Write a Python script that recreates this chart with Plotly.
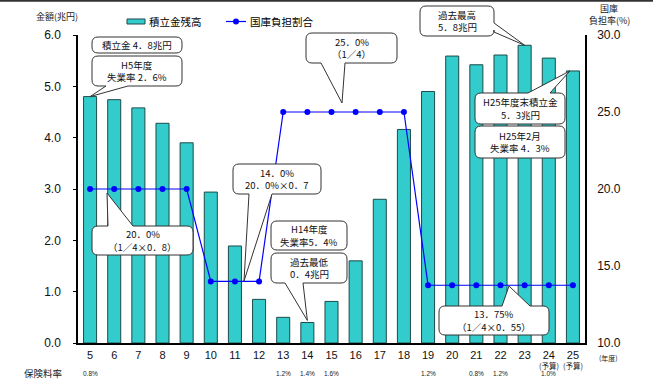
import plotly.graph_objects as go

# ---- data -------------------------------------------------------------
fiscal_years = ["5", "6", "7", "8", "9", "10", "11", "12", "13", "14", "15",
                "16", "17", "18", "19", "20", "21", "22", "23", "24", "25"]
reserve_balance = [4.8, 4.74, 4.58, 4.28, 3.90, 2.94, 1.89, 0.85, 0.50, 0.40, 0.81,
                   1.60, 2.80, 4.16, 4.90, 5.59, 5.42, 5.61, 5.8, 5.55, 5.3]
treasury_share = [20.0, 20.0, 20.0, 20.0, 20.0, 14.0, 14.0, 14.0, 25.0, 25.0, 25.0,
                  25.0, 25.0, 25.0, 13.75, 13.75, 13.75, 13.75, 13.75, 13.75, 13.75]
rate_years = ["5", "13", "14", "15", "19", "21", "22", "24"]
rate_labels = ["0.8%", "1.2%", "1.4%", "1.6%", "1.2%", "0.8%", "1.2%", "1.0%"]
budget_years = ["24", "25"]
left_ticks = [0, 1, 2, 3, 4, 5, 6]
right_ticks = [10, 15, 20, 25, 30]

# ---- page geometry (pixels) ------------------------------------------
W, H = 653, 379
L, R, T, B = 78, 585, 35, 343
JP = "Noto Sans CJK JP"
TEAL = "#33CCCC"
EDGE = "#1E4A4A"
BLUE = "#0000FF"


def px(x):
    return (x - L) / (R - L)


def py(y):
    return (B - y) / (B - T)


def bar_top(year, value):
    i = fiscal_years.index(year)
    x = L + (i + 0.5) * (R - L) / len(fiscal_years)
    y = B - value * (B - T) / 6.0
    return x, y


def bubble_path(x0, y0, x1, y1, r=6, tail=None):
    side = tail[0] if tail else None
    d = [f"M{px(x0 + r)},{py(y0)}"]
    if side == "top":
        _, a, b, tx, ty = tail
        d += [f"L{px(a)},{py(y0)}", f"L{px(tx)},{py(ty)}", f"L{px(b)},{py(y0)}"]
    d += [f"L{px(x1 - r)},{py(y0)}", f"Q{px(x1)},{py(y0)} {px(x1)},{py(y0 + r)}"]
    if side == "right":
        _, a, b, tx, ty = tail
        d += [f"L{px(x1)},{py(a)}", f"L{px(tx)},{py(ty)}", f"L{px(x1)},{py(b)}"]
    d += [f"L{px(x1)},{py(y1 - r)}", f"Q{px(x1)},{py(y1)} {px(x1 - r)},{py(y1)}"]
    if side == "bottom":
        _, a, b, tx, ty = tail
        d += [f"L{px(b)},{py(y1)}", f"L{px(tx)},{py(ty)}", f"L{px(a)},{py(y1)}"]
    d += [f"L{px(x0 + r)},{py(y1)}", f"Q{px(x0)},{py(y1)} {px(x0)},{py(y1 - r)}"]
    d += [f"L{px(x0)},{py(y0 + r)}", f"Q{px(x0)},{py(y0)} {px(x0 + r)},{py(y0)}", "Z"]
    return " ".join(d)


def label(x, y, text, size, family=JP, xanchor="center", xref="paper", color="#111111"):
    return dict(x=x, y=y, xref=xref, yref="paper", text=text, showarrow=False,
                xanchor=xanchor, yanchor="middle", align="center",
                font=dict(family=family, size=size, color=color))


fig = go.Figure()

fig.add_trace(go.Bar(
    x=fiscal_years, y=reserve_balance, name="積立金残高",
    marker=dict(color=TEAL, line=dict(color=EDGE, width=1)),
    width=0.54, yaxis="y", showlegend=False,
))
fig.add_trace(go.Scatter(
    x=fiscal_years, y=treasury_share, name="国庫負担割合",
    mode="lines+markers", line=dict(color=BLUE, width=1.2),
    marker=dict(color=BLUE, size=6), yaxis="y2", showlegend=False,
))

shapes = []
annotations = []

# callout bubbles: (rect, text lines, tail)
t5 = bar_top("5", reserve_balance[0])
t14 = bar_top("14", reserve_balance[9])
t23 = bar_top("23", reserve_balance[18])
t25 = bar_top("25", reserve_balance[20])
bubbles = [
    ((92, 37, 182, 53), ["積立金 4．8兆円"], None),
    ((92, 56, 182, 86), ["H5年度", "失業率 2．6%"], ("bottom", 106, 128, t5[0], t5[1])),
    ((306, 33, 397, 63), ["25．0%", "（1／4）"], ("bottom", 321, 345, 342, 103)),
    ((233, 164, 321, 194), ["14．0%", "20．0%×0．7"], ("bottom", 249, 272, 244, 281)),
    ((92, 226, 193, 255), ["20．0%", "（1／4×0．8）"], ("top", 108, 133, 107, 193)),
    ((271, 221, 347, 250), ["H14年度", "失業率5．4%"], None),
    ((271, 253, 347, 283), ["過去最低", "0．4兆円"], ("bottom", 285, 303, t14[0], t14[1] - 2)),
    ((420, 6, 494, 36), ["過去最高", "5．8兆円"], ("right", 23, 32, t23[0], t23[1])),
    ((475, 93, 565, 124), ["H25年度末積立金", "5．3兆円"], ("top", 528, 550, t25[0] - 3, t25[1])),
    ((475, 126, 565, 158), ["H25年2月", "失業率 4．3%"], None),
    ((439, 306, 549, 335), ["13．75%", "（1／4×0．55）"], ("top", 502, 530, 509, 286)),
]
LINE_GAP = 12.5
for (x0, y0, x1, y1), lines, tail in bubbles:
    shapes.append(dict(type="path", path=bubble_path(x0, y0, x1, y1, tail=tail),
                       xref="paper", yref="paper", layer="above",
                       fillcolor="white", line=dict(color="#333333", width=1)))
    cy = (y0 + y1) / 2
    first = cy - LINE_GAP * (len(lines) - 1) / 2
    for k, text in enumerate(lines):
        annotations.append(label(px((x0 + x1) / 2), py(first + k * LINE_GAP), text, 9.5))

# legend
shapes.append(dict(type="rect", xref="paper", yref="paper", x0=px(127), x1=px(145),
                   y0=py(24), y1=py(19), fillcolor=TEAL, line=dict(color=EDGE, width=1)))
annotations.append(label(px(147), py(21.5), "積立金残高", 10.5, xanchor="left", color="#000000"))
shapes.append(dict(type="line", xref="paper", yref="paper", x0=px(226), x1=px(246),
                   y0=py(21.5), y1=py(21.5), line=dict(color=BLUE, width=1.2)))
shapes.append(dict(type="circle", xref="paper", yref="paper", x0=px(233), x1=px(239),
                   y0=py(24.5), y1=py(18.5), fillcolor=BLUE, line=dict(color=BLUE, width=0)))
annotations.append(label(px(248), py(21.5), "国庫負担割合", 10.5, xanchor="left", color="#000000"))

# frame line along the top edge of the page
shapes.append(dict(type="line", xref="paper", yref="paper", x0=px(0), x1=px(W),
                   y0=py(0.8), y1=py(0.8), line=dict(color="#333333", width=2)))

# axis titles
annotations.append(label(px(57), py(17), "金額(兆円)", 9, color="#222222"))
annotations.append(label(px(609), py(8), "国庫", 9, color="#222222"))
annotations.append(label(px(609), py(20), "負担率(%)", 9, color="#222222"))
annotations.append(label(px(608), py(358), "(年度)", 7, color="#222222"))

# premium rate row
annotations.append(label(px(43), py(373), "保険料率", 9.5, color="#222222"))
for yr, lab in zip(rate_years, rate_labels):
    annotations.append(label(fiscal_years.index(yr), py(373.5), lab, 6.5,
                             family="Liberation Sans", xref="x", color="#222222"))
for yr in budget_years:
    annotations.append(label(fiscal_years.index(yr), py(365.5), "(予算)", 7.5,
                             xref="x", color="#222222"))

fig.update_layout(
    width=W, height=H, autosize=False, template="none",
    margin=dict(l=L, r=W - R, t=T, b=H - B, pad=0),
    paper_bgcolor="white", plot_bgcolor="white",
    shapes=shapes, annotations=annotations,
    xaxis=dict(type="category", range=[-0.5, 20.5], showline=True, linecolor="#000000",
               linewidth=1.5, ticks="", showgrid=False, zeroline=False, automargin=False,
               tickfont=dict(family="Liberation Sans", size=11, color="#111111"),
               ticklabelstandoff=1),
    yaxis=dict(range=[0, 6], tickvals=left_ticks, tickformat=".1f", showline=True,
               linecolor="#000000", linewidth=1.5, ticks="outside", ticklen=3,
               tickcolor="#000000", showgrid=False, zeroline=False, automargin=False,
               tickfont=dict(family="Liberation Sans", size=12, color="#111111"),
               ticklabelstandoff=10),
    yaxis2=dict(range=[10, 30], tickvals=right_ticks, tickformat=".1f", overlaying="y",
                side="right", showline=True, linecolor="#000000", linewidth=1.5,
                ticks="", showgrid=False, zeroline=False, automargin=False,
                tickfont=dict(family="Liberation Sans", size=12, color="#111111"),
                ticklabelstandoff=8),
)

fig.write_html("out.html")
